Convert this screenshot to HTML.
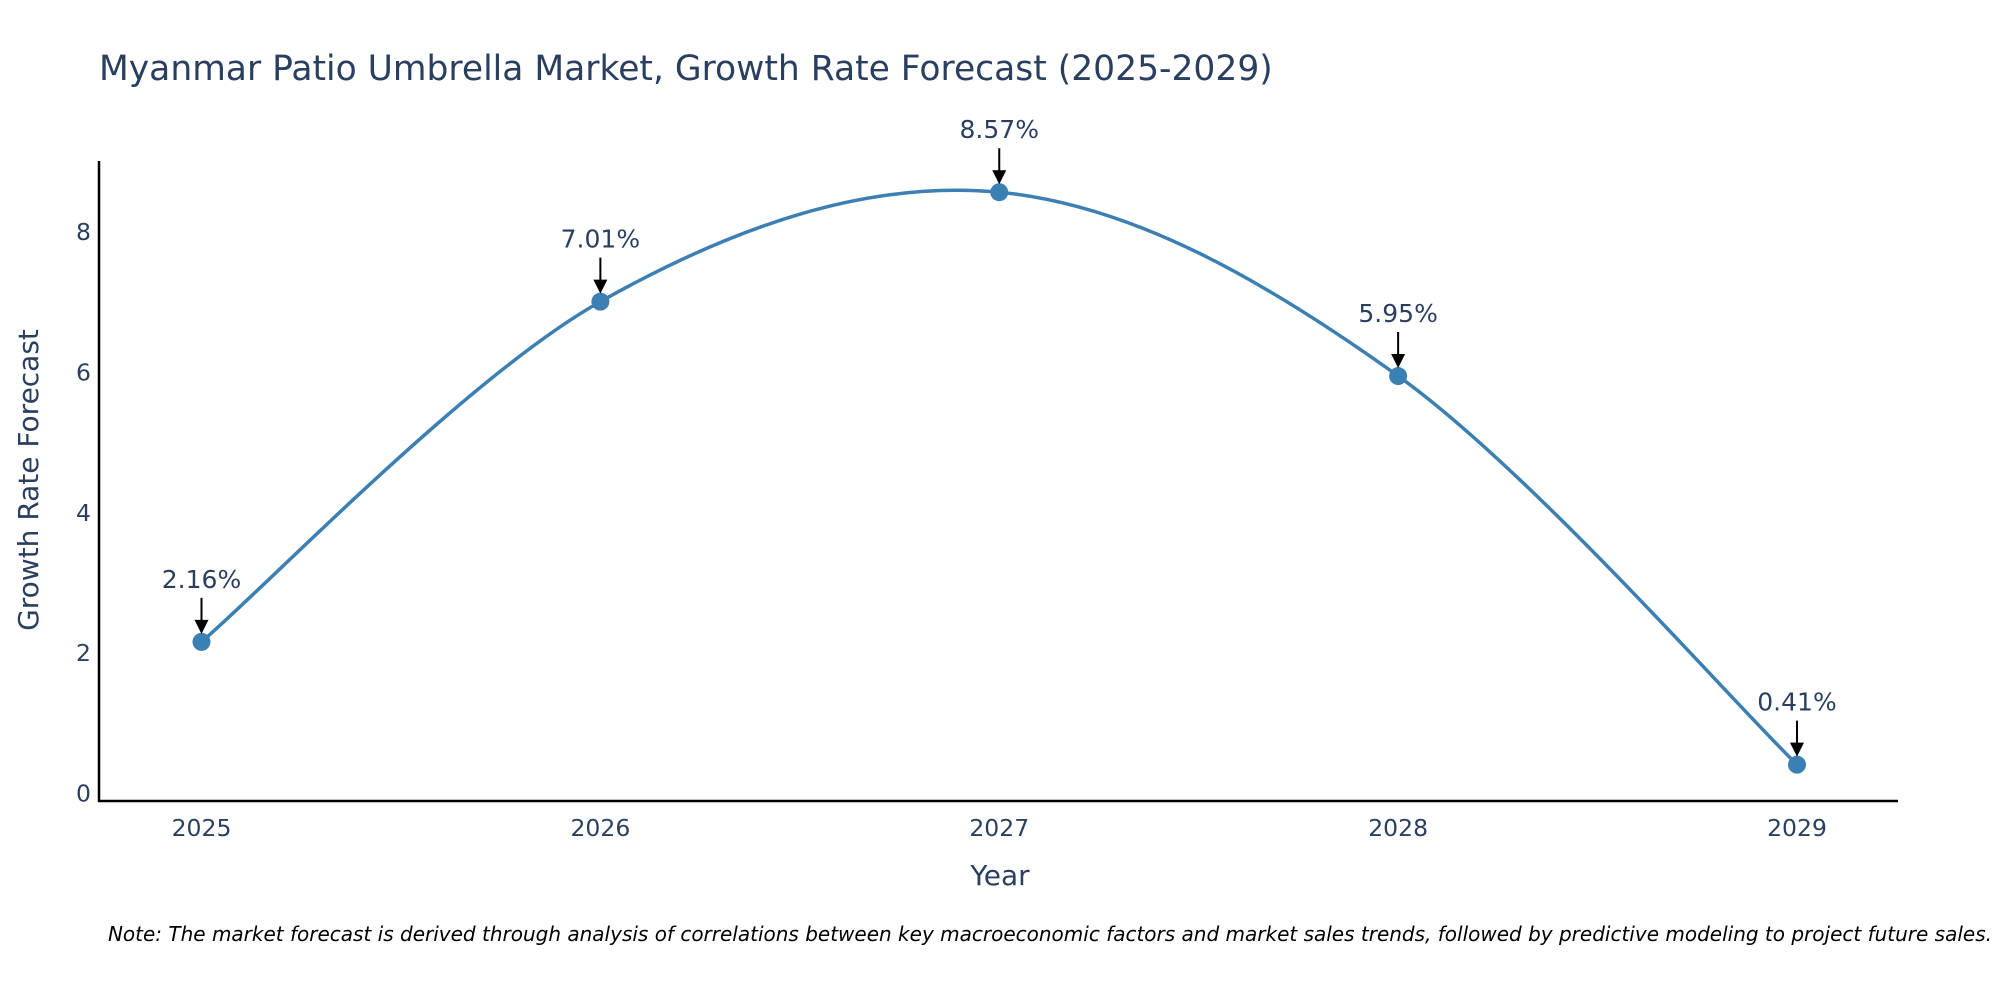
<!DOCTYPE html>
<html><head><meta charset="utf-8">
<style>
body{margin:0;background:#fff;}
svg text{font-family:"DejaVu Sans",sans-serif;fill:#2a3f5f;}
</style></head>
<body>
<svg id="chart" width="2000" height="1000" xmlns="http://www.w3.org/2000/svg">
<text x="99" y="80" font-size="34.5">Myanmar Patio Umbrella Market, Growth Rate Forecast (2025-2029)</text>
<g id="axes"></g>
<g id="series"></g>
<g id="annots"></g>
<text x="1000" y="885" font-size="28" text-anchor="middle">Year</text>
<text transform="translate(38,480) rotate(-90)" font-size="28" text-anchor="middle">Growth Rate Forecast</text>
<text x="1992" y="941" font-size="20" font-style="italic" text-anchor="end" style="fill:#000">Note: The market forecast is derived through analysis of correlations between key macroeconomic factors and market sales trends, followed by predictive modeling to project future sales.</text>
</svg>
<script>
const years=[2025,2026,2027,2028,2029];
const values=[2.16,7.01,8.57,5.95,0.41];
const labels=["2.16%","7.01%","8.57%","5.95%","0.41%"];
const yTicks=[0,2,4,6,8];
const NS="http://www.w3.org/2000/svg";
const x0=201.5,x1=1797,y0=793.4,unit=70.15;
function xs(i){return x0+(x1-x0)*i/(years.length-1);}
function ys(v){return y0-v*unit;}
function mk(t,a,p){const e=document.createElementNS(NS,t);for(const k in a)e.setAttribute(k,a[k]);p.appendChild(e);return e;}
const axes=document.getElementById('axes');
const xl=mk('line',{x1:98,x2:1898,y1:801,y2:801,stroke:'#000','stroke-width':2.5},axes);


const yl=mk('line',{x1:99,x2:99,y1:161,y2:802,stroke:'#000','stroke-width':2.5},axes);


yTicks.forEach(t=>{const e=mk('text',{x:91,y:ys(t)+8,'font-size':23.5,'text-anchor':'end'},axes);e.textContent=t;

});
years.forEach((y,i)=>{const e=mk('text',{x:xs(i),y:836,'font-size':23.5,'text-anchor':'middle'},axes);e.textContent=y;

});
const pts=values.map((v,i)=>[xs(i),ys(v)]);
let d='M'+pts[0][0]+','+pts[0][1];
for(let i=0;i<pts.length-1;i++){const p0=pts[Math.max(0,i-1)],p1=pts[i],p2=pts[i+1],p3=pts[Math.min(pts.length-1,i+2)];
const s=1/6;d+=' C'+(p1[0]+(p2[0]-p0[0])*s)+','+(p1[1]+(p2[1]-p0[1])*s)+' '+(p2[0]-(p3[0]-p1[0])*s)+','+(p2[1]-(p3[1]-p1[1])*s)+' '+p2[0]+','+p2[1];}
const ser=document.getElementById('series');
const ln=mk('path',{d:d,fill:'none',stroke:'#3b7fb3','stroke-width':3.5},ser);


const an=document.getElementById('annots');
pts.forEach((p,i)=>{const c=mk('circle',{cx:p[0],cy:p[1],r:9,fill:'#3b7fb3'},ser);


const a=mk('line',{x1:p[0],y1:p[1]-44,x2:p[0],y2:p[1]-20,stroke:'#000','stroke-width':2},an);


const h=mk('polygon',{points:(p[0]-7)+','+(p[1]-22)+' '+(p[0]+7)+','+(p[1]-22)+' '+p[0]+','+(p[1]-8),fill:'#000'},an);


const t=mk('text',{x:p[0],y:p[1]-54,'font-size':25,'text-anchor':'middle'},an);t.textContent=labels[i];

});
</script>
</body></html>
